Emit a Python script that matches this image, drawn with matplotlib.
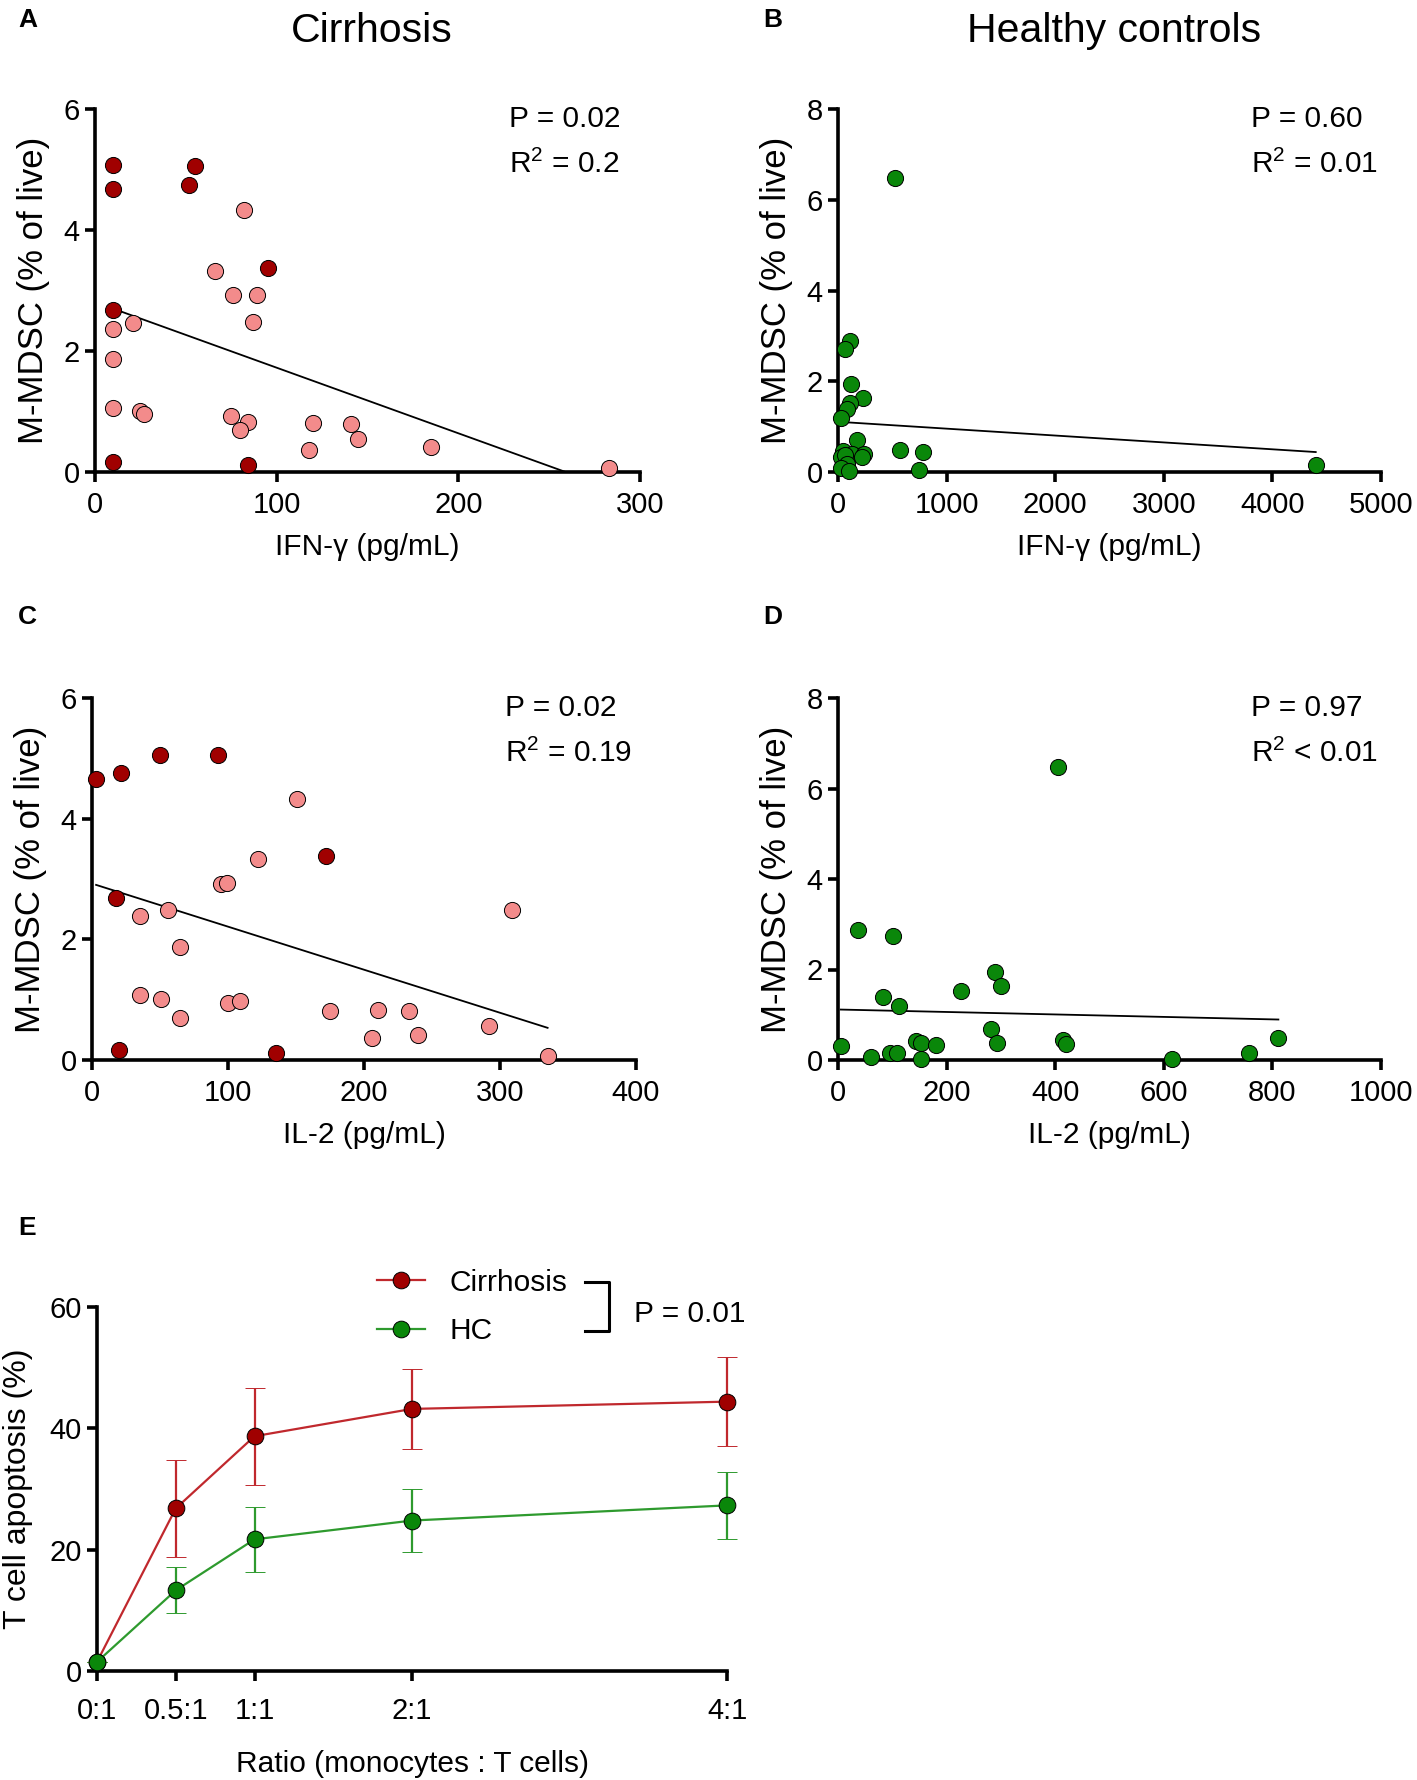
import numpy as np
import matplotlib
matplotlib.use("Agg")
import matplotlib.pyplot as plt
from matplotlib.lines import Line2D

plt.rcParams['font.family'] = ['Liberation Sans', 'DejaVu Sans']
plt.rcParams['mathtext.fontset'] = 'custom'
plt.rcParams['mathtext.rm'] = 'Liberation Sans'
plt.rcParams['mathtext.default'] = 'regular'

# ---------------- Data ----------------
# Panel A: Cirrhosis, IFN-gamma vs M-MDSC
a_dark_x = [10, 10, 55, 52, 95, 10, 10, 84]
a_dark_y = [5.07, 4.67, 5.05, 4.75, 3.38, 2.68, 0.17, 0.11]
a_pink_x = [82, 66, 76, 89, 87, 21, 10, 10, 10, 25, 27, 75, 84, 80, 120, 141, 145, 118, 185, 283]
a_pink_y = [4.33, 3.33, 2.93, 2.92, 2.48, 2.47, 2.37, 1.87, 1.06, 1.01, 0.96, 0.92, 0.83, 0.70, 0.81, 0.80, 0.55, 0.36, 0.41, 0.06]
a_fit = (2.808, -0.01084)   # intercept, slope
a_stats = ["P = 0.02", "R$^2$ = 0.2"]

# Panel B: Healthy controls, IFN-gamma vs M-MDSC
b_x = [526, 111, 67, 122, 229, 111, 79, 28, 174, 569, 779, 47, 130, 237, 217, 32, 60, 79, 28, 99, 743, 4399]
b_y = [6.49, 2.88, 2.72, 1.94, 1.64, 1.52, 1.39, 1.19, 0.70, 0.49, 0.43, 0.46, 0.40, 0.40, 0.33, 0.33, 0.37, 0.18, 0.09, 0.02, 0.04, 0.15]
b_fit = (1.107, -0.0001517)
b_stats = ["P = 0.60", "R$^2$ = 0.01"]

# Panel C: Cirrhosis, IL-2 vs M-MDSC
c_dark_x = [3, 21, 50, 93, 172, 18, 20, 135]
c_dark_y = [4.66, 4.75, 5.06, 5.05, 3.38, 2.68, 0.17, 0.11]
c_pink_x = [151, 122, 95, 99, 56, 35, 65, 35, 51, 65, 100, 109, 175, 210, 233, 206, 240, 292, 309, 335]
c_pink_y = [4.33, 3.33, 2.92, 2.93, 2.48, 2.38, 1.88, 1.07, 1.01, 0.70, 0.94, 0.98, 0.81, 0.83, 0.82, 0.37, 0.41, 0.56, 2.49, 0.07]
c_fit = (2.924, -0.007137)
c_stats = ["P = 0.02", "R$^2$ = 0.19"]

# Panel D: Healthy controls, IL-2 vs M-MDSC
d_x = [406, 36, 102, 290, 301, 226, 82, 113, 282, 293, 5, 143, 153, 181, 415, 420, 811, 60, 96, 108, 153, 616, 756]
d_y = [6.47, 2.88, 2.73, 1.94, 1.64, 1.52, 1.39, 1.19, 0.69, 0.38, 0.31, 0.42, 0.38, 0.33, 0.44, 0.35, 0.49, 0.07, 0.15, 0.16, 0.02, 0.03, 0.16]
d_fit = (1.116, -0.000273)
d_stats = ["P = 0.97", "R$^2$ < 0.01"]

# Panel E: T cell apoptosis vs ratio
e_x = [0, 0.5, 1, 2, 4]
e_labels = ["0:1", "0.5:1", "1:1", "2:1", "4:1"]
e_cir = [1.5, 26.8, 38.7, 43.2, 44.4]
e_cir_err = [0, 8.0, 8.0, 6.6, 7.3]
e_hc = [1.5, 13.3, 21.7, 24.8, 27.3]
e_hc_err = [0, 3.8, 5.3, 5.2, 5.5]
e_p = "P = 0.01"

# ---------------- Style ----------------
DARK = '#A00000'
PINK = '#F38B8B'
GREEN = '#0A870A'
RED_LINE = '#C0282D'
GREEN_LINE = '#2E9A2E'
TICK_FS = 21
LAB_FS = 21.5
YLAB_FS = 25
STAT_FS = 21.5
MS = 135

W, H = 1417, 1780
fig = plt.figure(figsize=(W / 100, H / 100), dpi=100)


def rect(left, top, right, bottom):
    return [left / W, 1 - bottom / H, (right - left) / W, (bottom - top) / H]


def style(ax, xpad=7):
    for s in ['top', 'right']:
        ax.spines[s].set_visible(False)
    for s in ['left', 'bottom']:
        ax.spines[s].set_linewidth(2.6)
    ax.tick_params(axis='both', direction='out', length=7, width=2.6,
                   labelsize=TICK_FS, pad=4)
    ax.tick_params(axis='x', pad=xpad)


def scatter_panel(ax, groups, fit, stats, xlim, xticks, ylim, yticks, xlabel):
    allx = []
    for xs, ys, col in groups:
        ax.scatter(xs, ys, s=MS, c=col, edgecolors='black', linewidths=0.7,
                   zorder=3, clip_on=False)
        allx += list(xs)
    b, m = fit
    x0 = min(allx)
    x1 = max(allx)
    if b + m * x1 < 0:
        x1 = -b / m
    xl = np.array([x0, x1])
    ax.plot(xl, b + m * xl, color='black', lw=1.3, zorder=2)
    ax.set_xlim(*xlim)
    ax.set_ylim(*ylim)
    ax.set_xticks(xticks)
    ax.set_yticks(yticks)
    ax.set_xlabel(xlabel, fontsize=LAB_FS, labelpad=10)
    ax.set_ylabel("M-MDSC (% of live)", fontsize=YLAB_FS, labelpad=10)
    ax.text(0.76, 0.972, stats[0], transform=ax.transAxes, fontsize=STAT_FS,
            va='center', ha='left')
    ax.text(0.76, 0.848, stats[1], transform=ax.transAxes, fontsize=STAT_FS,
            va='center', ha='left')
    style(ax)


axA = fig.add_axes(rect(95, 109, 640, 472))
scatter_panel(axA, [(a_pink_x, a_pink_y, PINK), (a_dark_x, a_dark_y, DARK)],
              a_fit, a_stats, (0, 300), [0, 100, 200, 300], (0, 6), [0, 2, 4, 6],
              "IFN-γ (pg/mL)")

axB = fig.add_axes(rect(838, 109, 1381, 472))
scatter_panel(axB, [(b_x, b_y, GREEN)], b_fit, b_stats, (0, 5000),
              [0, 1000, 2000, 3000, 4000, 5000], (0, 8), [0, 2, 4, 6, 8],
              "IFN-γ (pg/mL)")

axC = fig.add_axes(rect(92, 698, 636, 1060))
scatter_panel(axC, [(c_pink_x, c_pink_y, PINK), (c_dark_x, c_dark_y, DARK)],
              c_fit, c_stats, (0, 400), [0, 100, 200, 300, 400], (0, 6), [0, 2, 4, 6],
              "IL-2 (pg/mL)")

axD = fig.add_axes(rect(838, 698, 1381, 1060))
scatter_panel(axD, [(d_x, d_y, GREEN)], d_fit, d_stats, (0, 1000),
              [0, 200, 400, 600, 800, 1000], (0, 8), [0, 2, 4, 6, 8],
              "IL-2 (pg/mL)")

# Panel E
axE = fig.add_axes(rect(97, 1307, 727, 1671))
axE.errorbar(e_x, e_cir, yerr=e_cir_err, color=RED_LINE, lw=1.6, elinewidth=1.6,
             capsize=7, capthick=1.6, marker='o', markersize=12,
             markerfacecolor=DARK, markeredgecolor='black', markeredgewidth=0.7,
             zorder=3, clip_on=False, label='Cirrhosis')
axE.errorbar(e_x, e_hc, yerr=e_hc_err, color=GREEN_LINE, lw=1.6, elinewidth=1.6,
             capsize=7, capthick=1.6, marker='o', markersize=12,
             markerfacecolor=GREEN, markeredgecolor='black', markeredgewidth=0.7,
             zorder=4, clip_on=False, label='HC')
axE.set_xlim(0, 4)
axE.set_ylim(0, 60)
axE.set_xticks(e_x)
axE.set_xticklabels(e_labels)
axE.set_yticks([0, 20, 40, 60])
axE.set_xlabel("Ratio (monocytes : T cells)", fontsize=LAB_FS, labelpad=18)
axE.set_ylabel("T cell apoptosis (%)", fontsize=23, labelpad=12)
style(axE, xpad=12)

handles = [Line2D([], [], color=RED_LINE, lw=1.6, marker='o', markersize=12,
                  markerfacecolor=DARK, markeredgecolor='black', markeredgewidth=0.7),
           Line2D([], [], color=GREEN_LINE, lw=1.6, marker='o', markersize=12,
                  markerfacecolor=GREEN, markeredgecolor='black', markeredgewidth=0.7)]
axE.legend(handles, ['Cirrhosis', 'HC'], loc='center left',
           bbox_to_anchor=(0.445, 1.0), frameon=False, fontsize=LAB_FS,
           handlelength=1.6, handletextpad=0.8, labelspacing=0.7,
           borderpad=0, borderaxespad=0)
# bracket for significance
axE.add_line(Line2D([0.775, 0.812, 0.812, 0.775], [1.069, 1.069, 0.934, 0.934],
                    transform=axE.transAxes, color='black', lw=2.2, clip_on=False))
axE.text(0.852, 0.98, e_p, transform=axE.transAxes, fontsize=STAT_FS,
         va='center', ha='left')

# Titles and panel letters
fig.text(372 / W, 1 - 31 / H, "Cirrhosis", fontsize=29.5, ha='center', va='center')
fig.text(1114 / W, 1 - 31 / H, "Healthy controls", fontsize=29.5, ha='center', va='center')
for letter, (px, py) in zip("ABCDE", [(18, 20), (763, 20), (18, 617), (763, 617), (18, 1228)]):
    fig.text(px / W, 1 - py / H, letter, fontsize=19, fontweight='bold',
             ha='left', va='center')

fig.savefig("out.png", dpi=100)
